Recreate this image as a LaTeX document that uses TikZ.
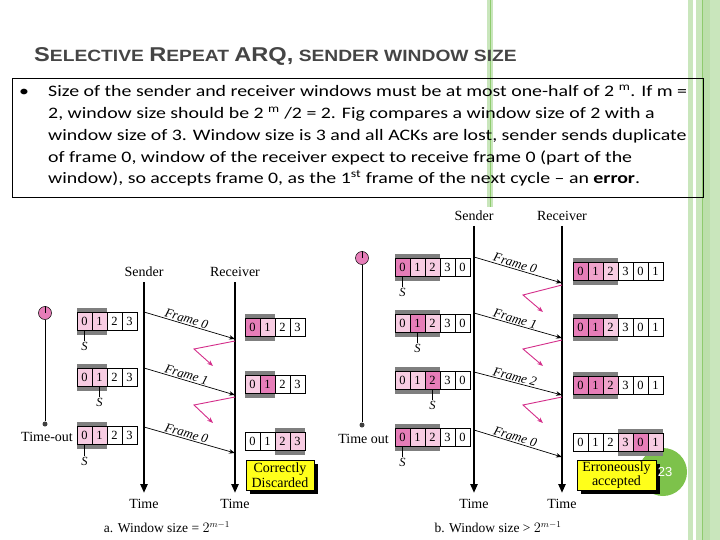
\documentclass[tikz,border=0pt]{standalone}
\usepackage{fontspec}
\setmainfont{Liberation Serif}
\newfontfamily\bodyfont[FakeStretch=1.24]{Carlito}
\newfontfamily\titlefont[FakeStretch=1.18]{Liberation Sans}
\newfontfamily\numfont{Liberation Sans}
\usetikzlibrary{arrows.meta,shadows}
\definecolor{pinkD}{HTML}{E67DB8}
\definecolor{pinkM}{HTML}{EFA3CB}
\definecolor{pinkL}{HTML}{F7CCE2}
\definecolor{barg}{HTML}{7F7F7F}
\definecolor{ackc}{HTML}{D42E8A}
\definecolor{greenL}{HTML}{C9E6BC}
\definecolor{greenM}{HTML}{BCDFAB}
\definecolor{greenD}{HTML}{8FCB6E}
\definecolor{slidegreen}{HTML}{7DC24B}
\definecolor{titlegray}{HTML}{454545}
\definecolor{ybox}{HTML}{FFFF1A}
\newcommand{\bigT}{\fontsize{20}{20}\selectfont}
\newcommand{\smT}{\fontsize{16.3}{16.3}\selectfont}
\newcommand{\drawwin}[6]{%
  \fill[barg] ({#1+#3*15},{#2-4.5}) rectangle ({#1+(#4+1)*15},{#2+22.5});
  \foreach \dd/\cc [count=\ii from 0] in {#5} {
    \node[cellbox,fill=\cc] (#6-\ii) at ({#1+\ii*15+7.5},{#2+9}) {\dd};
  }%
}
\tikzset{
  cellbox/.style={draw=black,line width=0.5pt,minimum width=15pt,minimum height=18pt,inner sep=0pt,font=\fontsize{12.5}{12.5}\selectfont},
  lab/.style={font=\fontsize{14}{14}\selectfont,inner sep=1pt},
  slab/.style={font=\fontsize{12.5}{12.5}\selectfont\itshape,inner sep=0.5pt},
  flab/.style={font=\fontsize{13}{13}\selectfont\itshape,inner sep=1pt},
  life/.style={line width=2.4pt,-{Triangle[length=9pt,width=7pt]}},
  frm/.style={line width=0.7pt,-{Stealth[length=6pt,width=4.5pt]}},
  ack/.style={line width=0.9pt,draw=ackc,-{Stealth[length=6pt,width=4.5pt]}},
  timer/.style={circle,draw=black,line width=0.5pt,fill=pinkD,minimum size=13pt,inner sep=0pt},
  dotn/.style={circle,fill=black!75,minimum size=5pt,inner sep=0pt},
  yb/.style={draw=black,line width=0.5pt,fill=ybox,align=center,inner sep=1pt,
    font=\fontsize{14}{14.5}\selectfont,
    general shadow={fill=black,shadow xshift=3.5pt,shadow yshift=-3.5pt}},
  bodyl/.style={anchor=base west,inner sep=0pt,font=\bodyfont\fontsize{16}{16}\selectfont},
}
\begin{document}
\begin{tikzpicture}[x=1pt,y=-1pt]
\useasboundingbox (0,0) rectangle (720,540);
\fill[white] (0,0) rectangle (720,540);
% decorative green stripes
\fill[greenL] (487,0) rectangle (493,207);
\draw[greenD,line width=1pt] (490,0) -- (490,207);
\fill[greenL] (688,0) rectangle (692.5,540);
\fill[greenL] (696,0) rectangle (720,540);
\fill[greenM] (703,0) rectangle (710,540);
\draw[greenD,line width=1.2pt] (702.5,0) -- (702.5,540);
% title
\node[anchor=base west,inner sep=0pt,text=titlegray] (title) at (34,62)
  {\titlefont\bfseries\bigT S\smT ELECTIVE \bigT R\smT EPEAT \bigT ARQ,\smT{} SENDER WINDOW SIZE};
% text box
\draw[line width=0.8pt] (12.5,78) rectangle (703,197);
\node[bodyl] (bul) at (19,97) {•};
\node[bodyl] (t1) at (48,97) {Size of the sender and receiver windows must be at most one-half of 2 \textsuperscript{m}. If m =};
\node[bodyl] (t2) at (48,118.7) {2, window size should be 2 \textsuperscript{m} /2 = 2. Fig compares a window size of 2 with a};
\node[bodyl] (t3) at (48,140.4) {window size of 3. Window size is 3 and all ACKs are lost, sender sends duplicate};
\node[bodyl] (t4) at (48,162.1) {of frame 0, window of the receiver expect to receive frame 0 (part of the};
\node[bodyl] (t5) at (48,183.8) {window), so accepts frame 0, as the 1\textsuperscript{st} frame of the next cycle – an \textbf{error}.};

% ================= left diagram =================
\node[lab] (sndA) at (144,272) {Sender};
\node[lab] (rcvA) at (235,272) {Receiver};
\coordinate (sAtop) at (144,282); \coordinate (sAbot) at (144,493);
\coordinate (rAtop) at (235,282); \coordinate (rAbot) at (235,493);
\draw[life] (sAtop) -- (sAbot);
\draw[life] (rAtop) -- (rAbot);
\node[lab] (timeA1) at (144,504) {Time};
\node[lab] (timeA2) at (235,504) {Time};
\node[lab,font=\fontsize{13.5}{13.5}\selectfont] (capA) at (167,527) {a. Window size = $2^{m-1}$};
% timer
\node[timer] (tmA) at (45,313) {};
\draw[line width=0.6pt] (tmA.center) -- (tmA.north);
\node[dotn] (tdA) at (45,424) {};
\draw[line width=0.8pt] (tmA) -- (tdA);
\node[lab,anchor=east] (toA) at (74,437) {Time-out};
% sender windows
\drawwin{77}{312.5}{0}{1}{0/pinkL,1/pinkL,2/white,3/white}{swa}
\drawwin{77}{368.5}{0}{1}{0/pinkL,1/pinkL,2/white,3/white}{swb}
\drawwin{77}{426.5}{0}{1}{0/pinkL,1/pinkL,2/white,3/white}{swc}
\node[slab] (sa) at (84.5,346) {S};
\node[slab] (sb) at (99.5,402) {S};
\node[slab] (sc) at (84.5,461) {S};
\draw[line width=0.5pt] (swa-0.south) -- (sa.north);
\draw[line width=0.5pt] (swb-1.south) -- (sb.north);
\draw[line width=0.5pt] (swc-0.south) -- (sc.north);
% receiver windows
\drawwin{245}{318.5}{0}{1}{0/pinkD,1/pinkL,2/white,3/white}{rwa}
\drawwin{245}{375.5}{0}{1}{0/pinkL,1/pinkD,2/white,3/white}{rwb}
\drawwin{245}{432.5}{2}{3}{0/white,1/white,2/pinkL,3/pinkL}{rwc}
% frames
\coordinate (fa1) at (144,312); \coordinate (fa1e) at (235,339);
\coordinate (fa2) at (144,368); \coordinate (fa2e) at (235,395);
\coordinate (fa3) at (144,427); \coordinate (fa3e) at (235,453);
\draw[frm] (fa1) -- node[flab,sloped,above,pos=0.45] (lfa1) {Frame 0} (fa1e);
\draw[frm] (fa2) -- node[flab,sloped,above,pos=0.45] (lfa2) {Frame 1} (fa2e);
\draw[frm] (fa3) -- node[flab,sloped,above,pos=0.45] (lfa3) {Frame 0} (fa3e);
% lost acks
\coordinate (aa1) at (235,341); \coordinate (aa1m) at (194,349); \coordinate (aa1e) at (213,366);
\coordinate (aa2) at (235,397); \coordinate (aa2m) at (194,405); \coordinate (aa2e) at (213,423);
\draw[ack] (aa1) -- (aa1m) -- (aa1e);
\draw[ack] (aa2) -- (aa2m) -- (aa2e);
\node[yb,minimum width=68pt,minimum height=30pt] (cdisc) at (280,475) {Correctly\\Discarded};

% ================= right diagram =================
\node[lab] (sndB) at (474,216) {Sender};
\node[lab] (rcvB) at (562,216) {Receiver};
\coordinate (sBtop) at (474,226); \coordinate (sBbot) at (474,493);
\coordinate (rBtop) at (562,226); \coordinate (rBbot) at (562,493);
\draw[life] (sBtop) -- (sBbot);
\draw[life] (rBtop) -- (rBbot);
\node[lab] (timeB1) at (474,504) {Time};
\node[lab] (timeB2) at (562,504) {Time};
\node[lab,font=\fontsize{13.5}{13.5}\selectfont] (capB) at (498,527) {b. Window size > $2^{m-1}$};
% timer
\node[timer] (tmB) at (362,258) {};
\draw[line width=0.6pt] (tmB.center) -- (tmB.north);
\node[dotn] (tdB) at (362,425) {};
\draw[line width=0.8pt] (tmB) -- (tdB);
\node[lab,anchor=east] (toB) at (390,439) {Time out};
% sender windows
\drawwin{395}{258.5}{0}{2}{0/pinkD,1/pinkL,2/pinkL,3/white,0/white}{swd}
\drawwin{395}{314.5}{0}{2}{0/pinkL,1/pinkD,2/pinkL,3/white,0/white}{swe}
\drawwin{395}{371.5}{0}{2}{0/pinkL,1/pinkL,2/pinkD,3/white,0/white}{swf}
\drawwin{395}{428.5}{0}{2}{0/pinkD,1/pinkL,2/pinkL,3/white,0/white}{swg}
\node[slab] (sd) at (402.5,292) {S};
\node[slab] (se) at (417.5,348) {S};
\node[slab] (sf) at (432.5,405) {S};
\node[slab] (sg) at (402.5,462) {S};
\draw[line width=0.5pt] (swd-0.south) -- (sd.north);
\draw[line width=0.5pt] (swe-1.south) -- (se.north);
\draw[line width=0.5pt] (swf-2.south) -- (sf.north);
\draw[line width=0.5pt] (swg-0.south) -- (sg.north);
% receiver windows
\drawwin{573}{262.5}{0}{2}{0/pinkD,1/pinkM,2/pinkL,3/white,0/white,1/white}{rwd}
\drawwin{573}{318.5}{0}{2}{0/pinkD,1/pinkD,2/pinkL,3/white,0/white,1/white}{rwe}
\drawwin{573}{376.5}{0}{2}{0/pinkD,1/pinkD,2/pinkM,3/white,0/white,1/white}{rwf}
% slide number circle (behind last box)
\fill[slidegreen] (663,472) circle[radius=24];
\drawwin{573}{433.5}{3}{5}{0/white,1/white,2/white,3/pinkL,0/pinkD,1/pinkL}{rwg}
% frames
\coordinate (fb1) at (474,257); \coordinate (fb1e) at (562,283);
\coordinate (fb2) at (474,313); \coordinate (fb2e) at (562,338);
\coordinate (fb3) at (474,372); \coordinate (fb3e) at (562,395);
\coordinate (fb4) at (474,430); \coordinate (fb4e) at (562,457);
\draw[frm] (fb1) -- node[flab,sloped,above,pos=0.45] (lfb1) {Frame 0} (fb1e);
\draw[frm] (fb2) -- node[flab,sloped,above,pos=0.45] (lfb2) {Frame 1} (fb2e);
\draw[frm] (fb3) -- node[flab,sloped,above,pos=0.45] (lfb3) {Frame 2} (fb3e);
\draw[frm] (fb4) -- node[flab,sloped,above,pos=0.45] (lfb4) {Frame 0} (fb4e);
% lost acks
\coordinate (ab1) at (562,285); \coordinate (ab1m) at (523,295); \coordinate (ab1e) at (543,312);
\coordinate (ab2) at (562,340); \coordinate (ab2m) at (523,349); \coordinate (ab2e) at (543,366);
\coordinate (ab3) at (562,397); \coordinate (ab3m) at (523,405); \coordinate (ab3e) at (543,423);
\draw[ack] (ab1) -- (ab1m) -- (ab1e);
\draw[ack] (ab2) -- (ab2m) -- (ab2e);
\draw[ack] (ab3) -- (ab3m) -- (ab3e);
\node[yb,minimum width=79pt,minimum height=30pt] (eacc) at (616.5,475) {Erroneously\\accepted};
\node[text=white,font=\numfont\fontsize{13}{13}\selectfont,inner sep=0pt] (pgno) at (665,472) {23};
\end{tikzpicture}
\end{document}
